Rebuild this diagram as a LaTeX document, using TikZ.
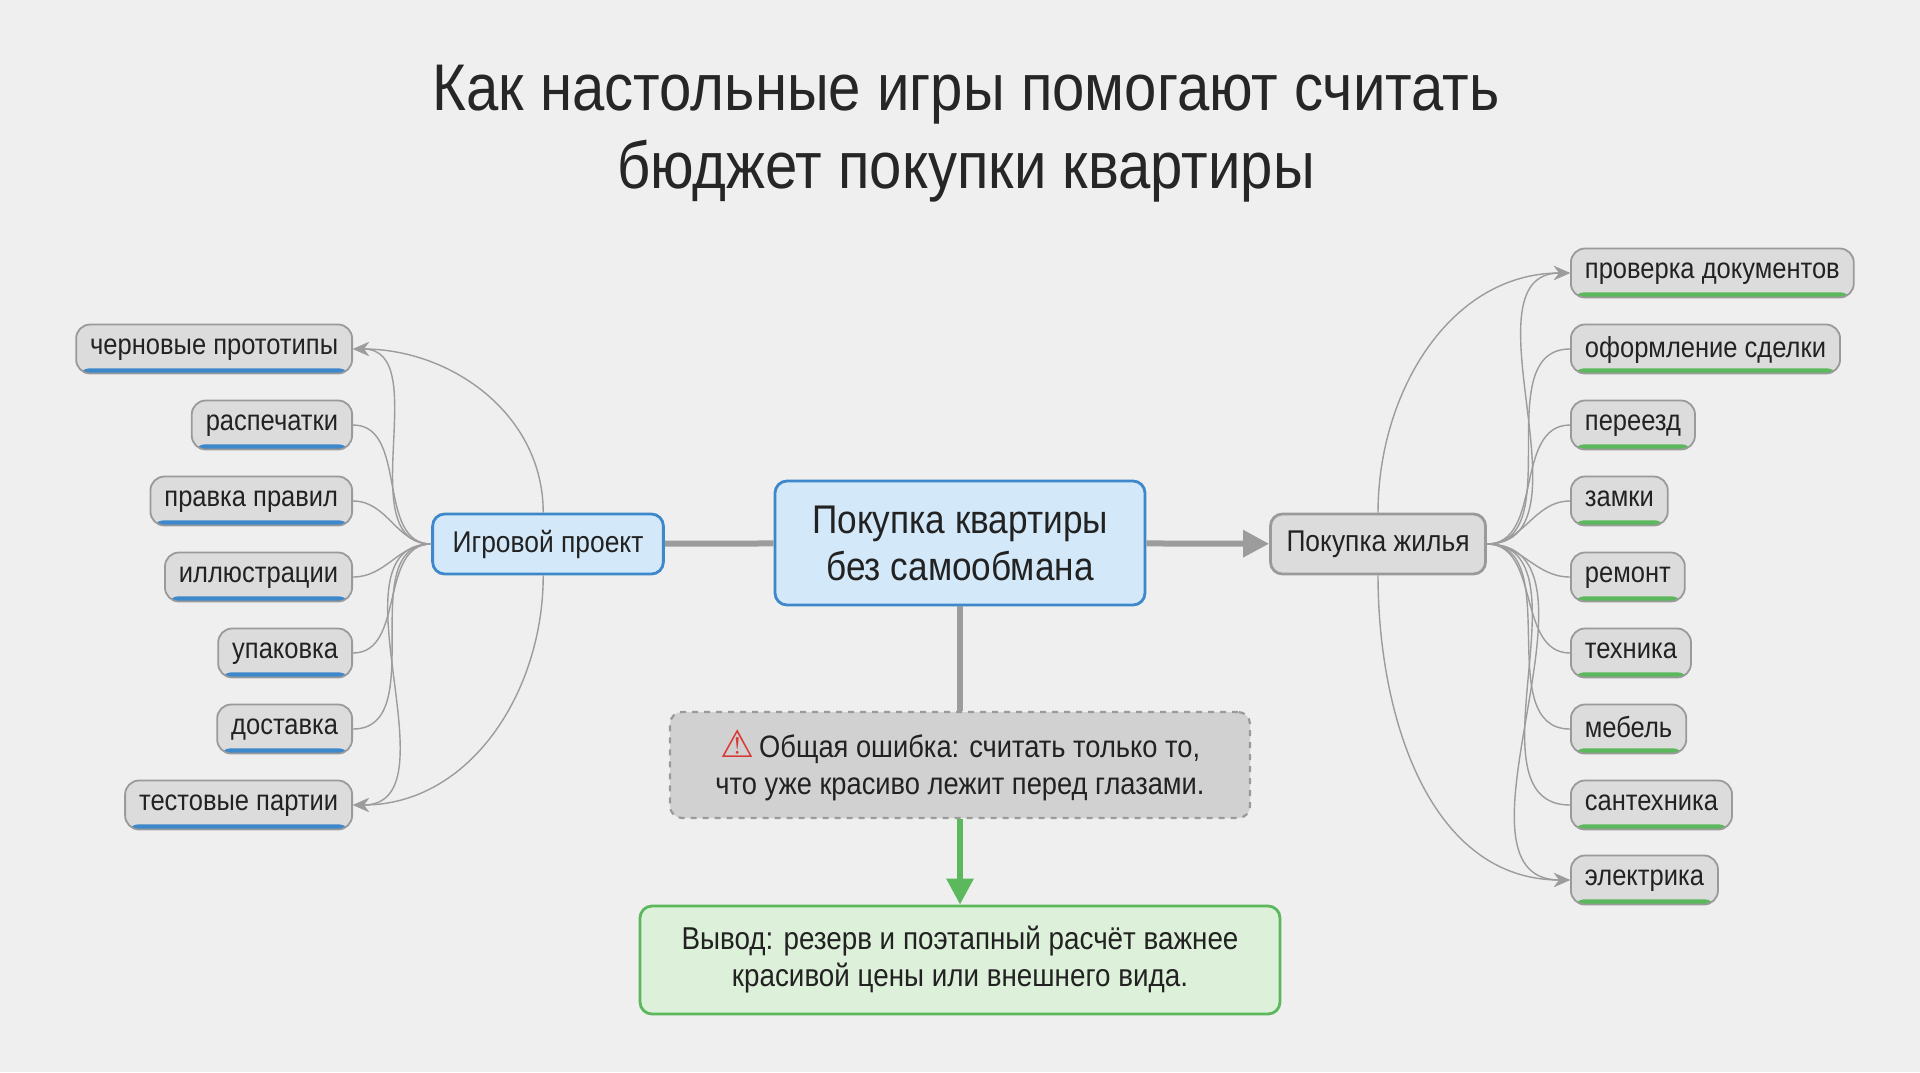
\documentclass[tikz,border=0pt]{standalone}
\usepackage{fontspec}
\setmainfont{Liberation Sans}[FakeStretch=0.88]
\newfontfamily\symf{DejaVu Sans}
\usetikzlibrary{arrows.meta}
\definecolor{bg}{HTML}{EFEFEF}
\definecolor{bluef}{HTML}{D3E8F8}
\definecolor{blueb}{HTML}{3D88CA}
\definecolor{grayf}{HTML}{DCDCDC}
\definecolor{grayb}{HTML}{9A9A9A}
\definecolor{greenf}{HTML}{DDF0D9}
\definecolor{greenb}{HTML}{5CB85C}
\definecolor{linec}{HTML}{9C9C9C}
\definecolor{warnred}{HTML}{D93A36}
\definecolor{txt}{HTML}{222222}
\begin{document}
\begin{tikzpicture}[x=0.5pt,y=-0.5pt, text=txt,
  box/.style={draw, rounded corners=6pt, align=center, line width=1.4pt},
  main/.style={box, fill=bluef, draw=blueb, font=\fontsize{20}{23.5}\selectfont},
  branchB/.style={box, fill=bluef, draw=blueb, minimum height=30pt, inner xsep=10pt, font=\fontsize{15}{18}\selectfont},
  branchG/.style={box, fill=grayf, draw=grayb, minimum height=30pt, inner xsep=8pt, font=\fontsize{15}{18}\selectfont},
  leaf/.style={draw=grayb, fill=grayf, rounded corners=7pt, line width=0.9pt, minimum height=24.5pt, inner xsep=7pt, text depth=2pt, font=\fontsize{14.5}{17}\selectfont,
    path picture={\fill[#1] ([yshift=2.6pt]path picture bounding box.south west) rectangle (path picture bounding box.south east);}},
  conn/.style={draw=linec, line width=0.7pt},
  tip/.style={-{Stealth[length=8pt,width=7pt]}},
  thick line/.style={draw=linec, line width=3pt}
]
\useasboundingbox[fill=bg] (0,0) rectangle (1920,1072);
\node[font=\fontsize{33}{39}\selectfont, align=center, text=black!85] (title) at (966,134) {Как настольные игры помогают считать\\бюджет покупки квартиры};

\node[main, minimum width=185pt, minimum height=62pt] (c) at (960,543) {Покупка квартиры\\без самообмана};
\node[branchB] (g) at (548,544) {Игровой проект};
\node[branchG] (h) at (1378,544) {Покупка жилья};
\node[box, draw=grayb, fill=grayf!95!black, dashed, line width=1.1pt, minimum width=290pt, minimum height=53pt, font=\fontsize{15.5}{18.5}\selectfont] (w) at (960,765) {{\color{warnred}\symf\fontsize{19}{19}\selectfont ⚠}\,Общая ошибка: считать только то,\\что уже красиво лежит перед глазами.};
\node[box, fill=greenf, draw=greenb, minimum width=320pt, minimum height=54pt, font=\fontsize{15.8}{18.5}\selectfont] (k) at (960,960) {Вывод: резерв и поэтапный расчёт важнее\\красивой цены или внешнего вида.};

\draw[thick line] (c) -- (g);
\draw[thick line, -{Triangle[length=13pt,width=13pt]}] (c) -- (h);
\draw[thick line] (c) -- (w);
\draw[draw=greenb, line width=3pt, -{Triangle[length=13pt,width=13pt]}] (w) -- (k);

% left leaves
\foreach \n/\y/\t in {l1/349/черновые прототипы, l2/425/распечатки, l3/501/правка правил, l4/577/иллюстрации, l5/653/упаковка, l6/729/доставка, l7/805/тестовые партии}{
  \node[leaf=blueb, anchor=east] (\n) at (353,\y) {\t};
}
\foreach \n in {l2,l3,l4,l5,l6}{ \draw[conn] (g.west) to[out=180,in=0] (\n.east); }
\draw[conn, tip] (g.west) to[out=180,in=0] (l1.east);
\draw[conn, tip] (g.west) to[out=180,in=0] (l7.east);
\draw[conn, tip] (g.north west) ++(112,0) coordinate (gn) to[out=90,in=0,looseness=1] (l1.east);
\draw[conn, tip] (g.south west) ++(112,0) coordinate (gs) to[out=-90,in=0,looseness=1] (l7.east);

% right leaves
\foreach \n/\y/\t in {r1/273/проверка документов, r2/349/оформление сделки, r3/425/переезд, r4/501/замки, r5/577/ремонт, r6/653/техника, r7/729/мебель, r8/805/сантехника, r9/880/электрика}{
  \node[leaf=greenb, anchor=west] (\n) at (1570,\y) {\t};
}
\foreach \n in {r2,r3,r4,r5,r6,r7,r8}{ \draw[conn] (h.east) to[out=0,in=180] (\n.west); }
\draw[conn, tip] (h.east) to[out=0,in=180] (r1.west);
\draw[conn, tip] (h.east) to[out=0,in=180] (r9.west);
\draw[conn, tip] (h.north) coordinate (hn) to[out=90,in=180,looseness=1] (r1.west);
\draw[conn, tip] (h.south) coordinate (hs) to[out=-90,in=180,looseness=1] (r9.west);
\end{tikzpicture}
\end{document}
